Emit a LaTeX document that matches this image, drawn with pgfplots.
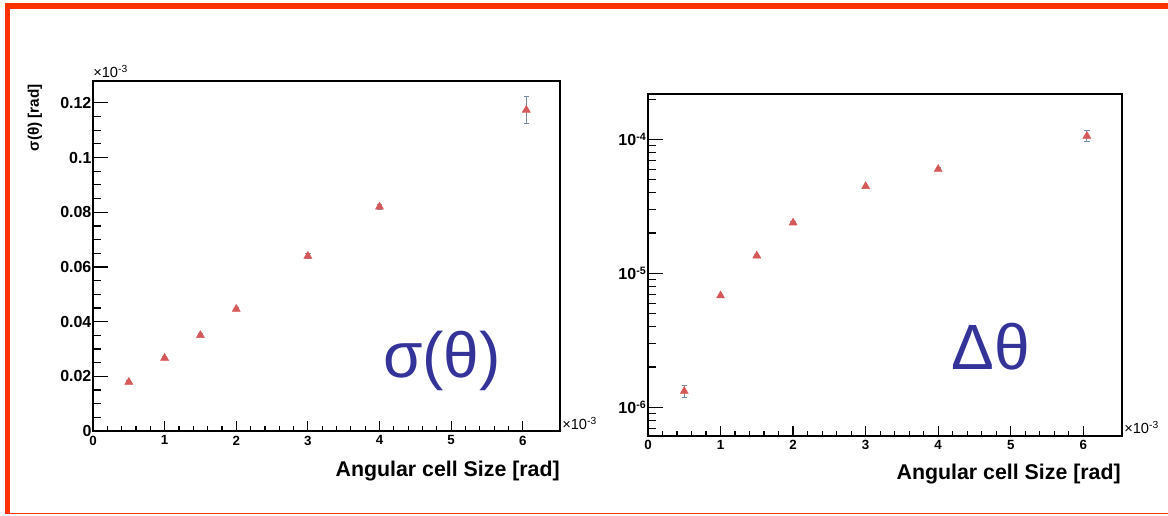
\documentclass[border=0pt]{standalone}
\usepackage{pgfplots}
\pgfplotsset{compat=1.18}
\usepackage{fontspec}
\setmainfont{Liberation Sans}
\definecolor{frame}{RGB}{255,51,0}
\definecolor{mk}{RGB}{214,88,88}
\definecolor{eb}{RGB}{120,140,170}
\definecolor{bigblue}{RGB}{51,51,153}
\pgfplotsset{
  rootstyle/.style={
    scale only axis,
    axis line style={line width=1.5pt},
    tick pos=left,
    tick align=inside,
    major tick length=11pt,
    minor tick length=6pt,
    tick style={black, line width=0.9pt},
    xtick style={/pgfplots/major tick length=7.5pt,/pgfplots/minor tick length=3.5pt},
    xticklabel style={font=\bfseries\fontsize{10}{11}\selectfont},
    yticklabel style={font=\bfseries\fontsize{12}{13}\selectfont, inner sep=1pt},
  },
}
\begin{document}
\begin{tikzpicture}
\fill[white] (0,0) rectangle (876pt,387pt);
\fill[frame] (3.4pt,380pt) rectangle (876pt,384.75pt);
\fill[frame] (3.4pt,1.2pt) rectangle (7.5pt,384.75pt);
\fill[frame] (3.4pt,1.2pt) rectangle (876pt,2.6pt);

% left panel
\begin{axis}[rootstyle,
  at={(69.75pt,63.75pt)}, anchor=south west,
  width=350.25pt, height=262.5pt,
  xmin=0, xmax=6.52, ymin=0, ymax=0.128,
  xtick={0,1,2,3,4,5,6}, xticklabels={0,1,2,3,4,5,6},
  minor x tick num=4,
  ytick={0,0.02,0.04,0.06,0.08,0.1,0.12},
  yticklabels={0,0.02,0.04,0.06,0.08,0.1,0.12},
  minor y tick num=3,
]
\addplot[only marks, mark=triangle*, mark size=3.4pt, color=mk,
  mark options={fill=mk, draw=mk},
  error bars/.cd, y dir=both, y explicit,
  error bar style={eb, line width=0.7pt},
  error mark options={rotate=90, eb, mark size=2pt, line width=0.7pt}]
  table[x=x, y=y, y error=e] {
x y e
0.5 0.0179 0.0004
1.0 0.0267 0.0005
1.5 0.0350 0.0006
2.0 0.0446 0.0007
3.0 0.0640 0.0008
4.0 0.0820 0.0010
6.05 0.1174 0.0050
};
\end{axis}

% right panel
\begin{axis}[rootstyle,
  at={(486pt,60.2pt)}, anchor=south west,
  width=355.3pt, height=256pt,
  ymode=log,
  xmin=0, xmax=6.53, ymin=6.14e-7, ymax=2.17e-4,
  xtick={0,1,2,3,4,5,6}, xticklabels={0,1,2,3,4,5,6},
  minor x tick num=4,
  ytick={1e-6,1e-5,1e-4},
  yticklabels={10\textsuperscript{-6},10\textsuperscript{-5},10\textsuperscript{-4}},
  minor ytick={7e-7,8e-7,9e-7,2e-6,3e-6,4e-6,5e-6,6e-6,7e-6,8e-6,9e-6,2e-5,3e-5,4e-5,5e-5,6e-5,7e-5,8e-5,9e-5,2e-4},
]
\addplot[only marks, mark=triangle*, mark size=3.4pt, color=mk,
  mark options={fill=mk, draw=mk},
  error bars/.cd, y dir=both, y explicit,
  error bar style={eb, line width=0.7pt},
  error mark options={rotate=90, eb, mark size=2pt, line width=0.7pt}]
  table[x=x, y=y, y error=e] {
x y e
0.5 1.32e-6 0.14e-6
1.0 6.82e-6 0.2e-6
1.5 1.355e-5 0.4e-6
2.0 2.39e-5 0.6e-6
3.0 4.47e-5 1.0e-6
4.0 6.00e-5 1.5e-6
6.05 1.06e-4 1.0e-5
};
\end{axis}

% labels
\node[rotate=90, anchor=east, font=\bfseries\fontsize{11.5}{13}\selectfont] at (26.25pt,327.5pt) {σ(θ) [rad]};
\node[anchor=base east, font=\bfseries\fontsize{16}{18}\selectfont, inner sep=0pt] at (420pt,29.25pt) {Angular cell Size [rad]};
\node[anchor=base east, font=\bfseries\fontsize{16}{18}\selectfont, inner sep=0pt] at (840.75pt,27pt) {Angular cell Size [rad]};
\node[anchor=base west, font=\fontsize{11}{12}\selectfont, inner sep=0pt] at (69.75pt,328.5pt) {×10\textsuperscript{-3}};
\node[anchor=base west, font=\fontsize{11}{12}\selectfont, inner sep=0pt] at (421.5pt,64.9pt) {×10\textsuperscript{-3}};
\node[anchor=base west, font=\fontsize{11}{12}\selectfont, inner sep=0pt] at (843pt,61.5pt) {×10\textsuperscript{-3}};
\node[anchor=base, text=bigblue, font=\fontsize{48}{50}\selectfont, inner sep=0pt] at (331.5pt,103.5pt) {σ(θ)};
\node[anchor=base, text=bigblue, font=\fontsize{48}{50}\selectfont, inner sep=0pt] at (743.25pt,109.5pt) {Δθ};

\pgfresetboundingbox
\path[use as bounding box] (0,0) rectangle (876pt,387pt);
\end{tikzpicture}
\end{document}
